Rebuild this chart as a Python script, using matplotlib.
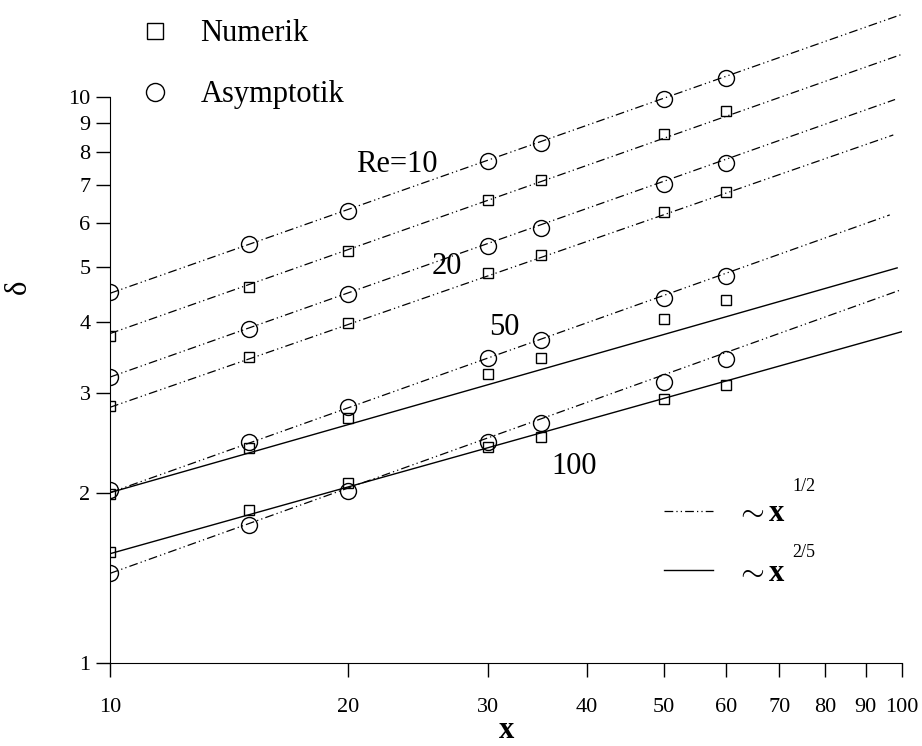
import numpy as np
import matplotlib
matplotlib.use('Agg')
import matplotlib.pyplot as plt
from matplotlib.lines import Line2D

plt.rcParams['font.family'] = ['Liberation Serif', 'DejaVu Serif']
plt.rcParams['mathtext.fontset'] = 'custom'
plt.rcParams['mathtext.rm'] = 'Liberation Serif'
plt.rcParams['mathtext.it'] = 'Liberation Serif:italic'
plt.rcParams['mathtext.bf'] = 'Liberation Serif:bold'

# x positions of the markers
x_pts = [10, 15, 20, 30, 35, 50, 60]

# delta values (Numerik = squares, Asymptotik = circles)
num_re10 = [3.78, 4.62, 5.35, 6.58, 7.13, 8.60, 9.45]
asy_re10 = [4.52, 5.50, 6.29, 7.71, 8.29, 9.92, 10.8]
num_re20 = [2.85, 3.47, 3.99, 4.89, 5.26, 6.26, 6.79]
asy_re20 = [3.20, 3.89, 4.49, 5.45, 5.87, 7.02, 7.64]
num_re50 = [1.99, 2.40, 2.71, 3.24, 3.46, 4.05, 4.38]
asy_re50 = [2.02, 2.46, 2.83, 3.46, 3.72, 4.41, 4.83]
num_re100 = [1.57, 1.86, 2.08, 2.41, 2.51, 2.93, 3.10]
asy_re100 = [1.44, 1.75, 2.01, 2.46, 2.65, 3.14, 3.44]

# power law guide lines: (x start, x end), (y start, y end)
half_lines = [
    ([10, 100], [4.50, 14.0]),
    ([10, 100], [3.82, 11.9]),
    ([10, 98], [3.20, 9.90]),
    ([10, 97.5], [2.83, 8.57]),
    ([10, 96.5], [2.00, 6.19]),
    ([10, 99.5], [1.44, 4.56]),
]
twofifth_lines = [
    ([10, 98.6], [2.00, 4.99]),
    ([10, 100], [1.56, 3.85]),
]

re_labels = ['Re=10', '20', '50', '100']
re_label_pos = [(23.0, 7.59), (26.6, 5.01), (31.5, 3.92), (38.6, 2.22)]

xticks = [10, 20, 30, 40, 50, 60, 70, 80, 90, 100]
yticks = [1, 2, 3, 4, 5, 6, 7, 8, 9, 10]

guide_labels = [r'$\sim\mathbf{x}$', r'$\sim\mathbf{x}$']
guide_exps = ['1/2', '2/5']

dashdotdot = (0, (7, 2.5, 1, 2.5, 1, 2.5))

fig = plt.figure(figsize=(9.22, 7.46), dpi=100)
ax = fig.add_axes([110/922, 83/746, 792/922, 663/746])
ax.set_xscale('log')
ax.set_yscale('log')
ax.set_xlim(10, 100)
ax.set_ylim(1, 14.84)

for xs, ys in half_lines:
    ax.plot(xs, ys, color='black', lw=0.9, ls=dashdotdot)
for xs, ys in twofifth_lines:
    ax.plot(xs, ys, color='black', lw=1.0, ls='-')

sq = dict(marker='s', ms=7.5, mfc='none', mec='black', mew=1.0, ls='none')
ci = dict(marker='o', ms=11.5, mfc='none', mec='black', mew=1.0, ls='none')
for num in [num_re10, num_re20, num_re50, num_re100]:
    ax.plot(x_pts, num, **sq)
for asy in [asy_re10, asy_re20, asy_re50, asy_re100]:
    ax.plot(x_pts, asy, **ci)

for lab, (lx, ly) in zip(re_labels, re_label_pos):
    ax.text(lx, ly, lab, fontsize=22, ha='center', va='center')

ax.spines['top'].set_visible(False)
ax.spines['right'].set_visible(False)
ax.spines['left'].set_bounds(1, 10)
ax.set_xticks(xticks)
ax.set_xticklabels([str(t) for t in xticks])
ax.set_yticks(yticks)
ax.set_yticklabels([str(t) for t in yticks])
ax.minorticks_off()
ax.tick_params(direction='out', length=10, width=1, labelsize=16, pad=4)
ax.tick_params(axis='x', pad=15)

ax.set_xlabel('x', fontsize=22, fontweight='bold', va='bottom')
ax.xaxis.set_label_coords(0.5, -(745 - 663) / 663)
ax.set_ylabel('δ', fontsize=22, rotation=90)
ax.yaxis.set_label_coords(-0.097, 0.567)

h1 = [Line2D([], [], marker='s', ms=11.5, mfc='none', mec='black', mew=1.0, ls='none'),
      Line2D([], [], marker='o', ms=13, mfc='none', mec='black', mew=1.0, ls='none')]
leg1 = ax.legend(h1, ['Numerik', 'Asymptotik'], loc='center left',
                 bbox_to_anchor=(0.0379, 0.903), frameon=False, fontsize=22,
                 handlelength=1.0, handletextpad=0.98, labelspacing=1.05,
                 borderpad=0, borderaxespad=0)
ax.add_artist(leg1)

h2 = [Line2D([], [], color='black', lw=0.9, ls=dashdotdot),
      Line2D([], [], color='black', lw=1.0, ls='-')]
ax.legend(h2, guide_labels, loc='center left', bbox_to_anchor=(0.6995, 0.18),
          frameon=False, fontsize=22, handlelength=1.6, handletextpad=0.75,
          labelspacing=1.0, borderpad=0, borderaxespad=0)

# exponents sit high above the x, as in the original
for exp, yf in zip(guide_exps, [0.2655, 0.166]):
    ax.text(0.861, yf, exp, fontsize=13, ha='left', va='center',
            transform=ax.transAxes)

fig.savefig('out.png', dpi=100)
